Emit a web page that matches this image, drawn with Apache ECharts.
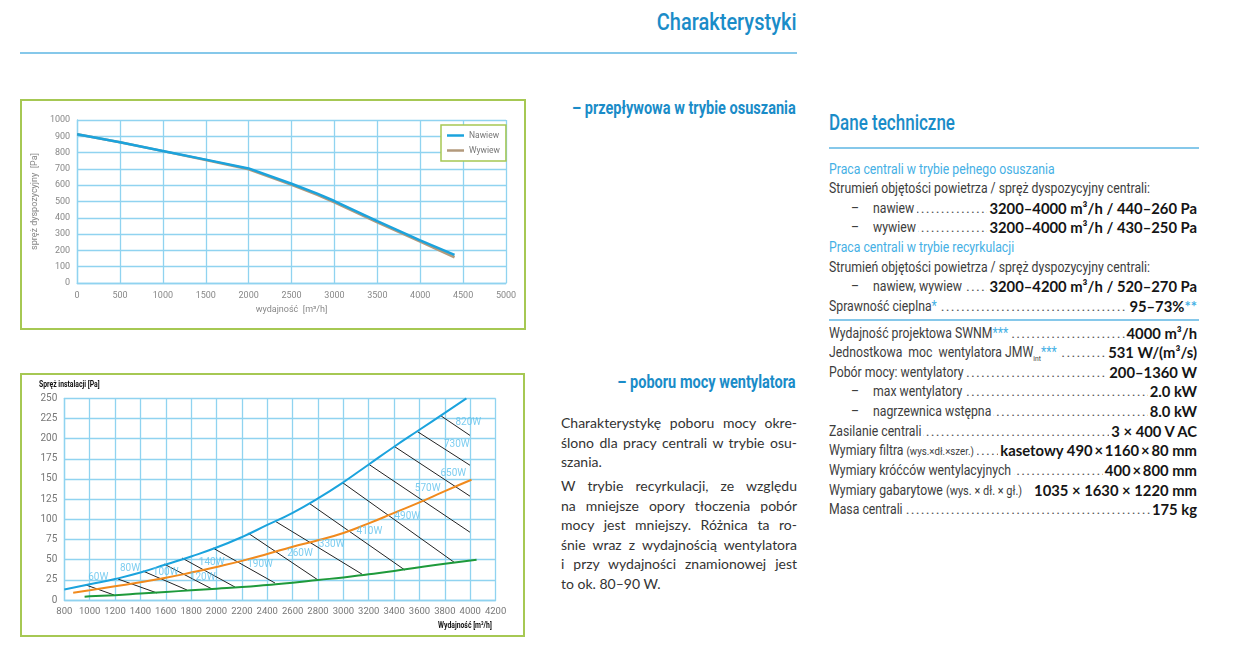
<!DOCTYPE html>
<html><head><meta charset="utf-8">
<script src="https://cdn.jsdelivr.net/npm/echarts@6/dist/echarts.min.js"></script>
<style>
html,body{margin:0;padding:0;background:#fff;width:1235px;height:660px;overflow:hidden;}
body{position:relative;font-family:Roboto,sans-serif;}
.abs{position:absolute;white-space:nowrap;}
.blue{color:#1a8cc8;}
.lb{color:#45b0e5;}
.box{position:absolute;border:2px solid #a6c853;box-sizing:border-box;}
.para{position:absolute;left:561px;width:236px;font-family:Lato,'Open Sans',sans-serif;font-size:14px;line-height:19.6px;color:#333;}
.para div{text-align:justify;text-align-last:justify;white-space:nowrap;}
.para div.last{text-align-last:left;}
.row{position:absolute;left:829px;width:368px;height:19.6px;font-size:14.5px;line-height:19.6px;color:#3d3d3d;white-space:nowrap;}
.lab{position:absolute;left:0;top:0;background:#fff;padding-right:3px;transform-origin:0 50%;font-family:Roboto,sans-serif;font-weight:400;}
.dots{position:absolute;left:0;right:0;top:0;overflow:hidden;direction:rtl;color:#555;letter-spacing:1.2px;font-family:Roboto,sans-serif;}
.val{position:absolute;right:0;top:0;background:#fff;padding-left:2px;font-family:Lato,'Open Sans',sans-serif;font-weight:bold;font-size:14.8px;color:#151515;}
.dash{display:inline-block;}
.sm{font-size:11.5px;}
.sm2{font-size:13px;}
.st{color:#45b0e5;}
</style>
</head><body>
<div class="abs blue fit" data-w="139.3" data-o="right" style="right:439px;top:7px;font-size:24px;line-height:30px;font-weight:500;">Charakterystyki</div>
<div class="abs" style="left:20px;top:52px;width:777px;height:2px;background:#86c8ea;"></div>
<div class="abs blue fit" data-w="224" data-o="right" style="right:439px;top:97px;font-size:17.5px;line-height:22px;font-weight:bold;">– przepływowa w trybie osuszania</div>
<div class="abs blue fit" data-w="178.7" data-o="right" style="right:439px;top:371px;font-size:17.5px;line-height:22px;font-weight:bold;">– poboru mocy wentylatora</div>

<div class="para" style="top:413px;">
<div>Charakterystykę poboru mocy okre-</div>
<div>ślono dla pracy centrali w trybie osu-</div>
<div class="last">szania.</div>
</div>
<div class="para" style="top:476px;">
<div>W trybie recyrkulacji, ze względu</div>
<div>na mniejsze opory tłoczenia pobór</div>
<div>mocy jest mniejszy. Różnica ta ro-</div>
<div>śnie wraz z wydajnością wentylatora</div>
<div>i przy wydajności znamionowej jest</div>
<div class="last">to ok. 80–90 W.</div>
</div>

<div class="abs blue fit" data-w="126" data-o="left" style="left:829px;top:109px;font-size:22px;line-height:28px;font-weight:500;">Dane techniczne</div>
<div class="abs" style="left:829px;top:147px;width:370px;height:2px;background:#86c8ea;"></div>
<div id="spec1"></div>
<div class="abs" style="left:829px;top:319px;width:370px;height:2px;background:#86c8ea;"></div>
<div id="spec2"></div>
<span id="meas" class="abs" style="visibility:hidden;left:0;top:0;font-family:Roboto,sans-serif;font-weight:400;font-size:14.5px;">Strumień objętości powietrza / spręż dyspozycyjny centrali:</span>

<div class="box" style="left:20px;top:99px;width:506px;height:231px;"><div id="c1" style="width:502px;height:227px;"></div></div>
<div class="box" style="left:20px;top:373px;width:505px;height:264px;"><div id="c2" style="width:501px;height:260px;"></div></div>

<script>
// ---------- data: flow characteristic (top chart) ----------
const flowX    = [0, 500, 1000, 1500, 2000, 2500, 2800, 3000, 3500, 4000, 4400];
const nawiewPa = [912, 863, 810, 757, 703, 609, 548, 503, 380, 262, 172];
const wywiewPa = [912, 863, 809, 755, 698, 602, 541, 495, 372, 254, 158];

// ---------- data: fan power (bottom chart) ----------
const blueX   = [800, 1000, 1200, 1400, 1600, 1800, 2000, 2200, 2400, 2600, 2800, 3000, 3200, 3400, 3600, 3800, 3970];
const blueY   = [13, 19.5, 26, 34, 44, 54, 65, 78, 93, 108, 126, 146, 168, 190, 211, 232, 250];
const orangeX = [870, 1000, 1200, 1400, 1600, 1800, 2000, 2200, 2400, 2600, 2800, 3000, 3200, 3400, 3600, 3800, 4010];
const orangeY = [9, 12, 17, 22, 27.5, 34, 41, 48.5, 57, 66, 74, 83, 95, 108, 121, 135, 149];
const greenX  = [960, 1000, 1200, 1400, 1600, 1800, 2000, 2200, 2400, 2600, 2800, 3000, 3200, 3400, 3600, 3800, 4050];
const greenY  = [4, 4.5, 6, 8, 10, 12, 14, 16, 18.6, 21.4, 24.8, 28, 32, 36, 40.5, 45, 50];
const hatchStartX = [971, 1223, 1420, 1586, 1728, 1972, 2248, 2461, 2729, 2989, 3202, 3399, 3581, 3762];
const hatchStartY = [18.6, 26, 35.9, 44.6, 52, 64.4, 83, 97.8, 120, 146, 168, 190.6, 209, 229];
const hatchEndX   = [1192, 1531, 1767, 1965, 2146, 2461, 2800, 3147, 3486, 3880, 3998, 3998, 3998, 3998];
const hatchEndY   = [6.2, 8.7, 12.4, 13.6, 16, 21, 24.8, 32, 37, 46, 84, 128.7, 167, 204];
const powerLabels = ['60W','80W','100W','120W','140W','190W','260W','330W','410W','490W','570W','650W','730W','820W'];
const powerLabelX = [1068, 1318, 1599, 1891, 1962, 2343, 2658, 2908, 3205, 3504, 3665, 3867, 3894, 3985];
const powerLabelY = [28, 39, 34, 28, 46, 44, 58, 69, 84.5, 104, 138, 157, 193, 220];

// ---------- spec text ----------
const TS = '\u2009';
const spec1 = [
  {t:'<span class="lb">Praca centrali w trybie pełnego osuszania</span>'},
  {t:'Strumień objętości powietrza / spręż dyspozycyjny centrali:'},
  {d:1, t:'nawiew', v:'3200–4000 m³/h / 440–260 Pa'},
  {d:1, t:'wywiew', v:'3200–4000 m³/h / 430–250 Pa'},
  {t:'<span class="lb">Praca centrali w trybie recyrkulacji</span>'},
  {t:'Strumień objętości powietrza / spręż dyspozycyjny centrali:'},
  {d:1, t:'nawiew, wywiew ', v:'3200–4200 m³/h / 520–270 Pa'},
  {t:'Sprawność cieplna<span class="st">*</span>', v:'95–73%<span class="st">**</span>'}
];
const spec2 = [
  {t:'Wydajność projektowa SWNM<span class="st">***</span> ', v:'4000 m³/h'},
  {t:'Jednostkowa&nbsp; moc&nbsp; wentylatora JMW<sub style="font-size:8px">int</sub><span class="st">***</span>', v:'531 W/(m³/s)'},
  {t:'Pobór mocy: wentylatory', v:'200–1360 W'},
  {d:1, t:'max wentylatory', v:'2.0 kW'},
  {d:1, t:'nagrzewnica wstępna ', v:'8.0 kW'},
  {t:'Zasilanie centrali ', v:'3 × 400 V AC'},
  {t:'Wymiary filtra <span class="sm">(wys.×dł.×szer.)</span> ', v:'kasetowy 490'+TS+'×'+TS+'1160'+TS+'×'+TS+'80 mm'},
  {t:'Wymiary króćców wentylacyjnych', v:'400'+TS+'×'+TS+'800 mm'},
  {t:'Wymiary gabarytowe <span class="sm2">(wys. × dł. × gł.)</span>', v:'1035 × 1630 × 1220 mm', nodots:1},
  {t:'Masa centrali ', v:'175 kg'}
];
const S = 321 / document.getElementById('meas').offsetWidth;
function renderSpec(id, rows, top, step){
  const dots = '.'.repeat(160);
  const dw = (22 / S).toFixed(2);
  let h = '';
  rows.forEach((r,i)=>{
    h += '<div class="row" style="top:'+(top+i*step).toFixed(1)+'px">';
    if (r.v && !r.nodots) h += '<span class="dots">'+dots+'</span>';
    h += '<span class="lab" style="transform:scaleX('+S.toFixed(4)+')">' +
         (r.d ? '<span class="dash" style="width:'+dw+'px;margin-left:'+dw+'px">–</span>' : '') + r.t + '</span>';
    if (r.v) h += '<span class="val">'+r.v+'</span>';
    h += '</div>';
  });
  document.getElementById(id).innerHTML = h;
}
renderSpec('spec1', spec1, 159.5, 19.6);
renderSpec('spec2', spec2, 323.5, 19.65);
document.querySelectorAll('.fit').forEach(el=>{
  const k = parseFloat(el.dataset.w) / el.offsetWidth;
  el.style.transformOrigin = (el.dataset.o === 'right' ? '100%' : '0') + ' 50%';
  el.style.transform = 'scaleX(' + k.toFixed(4) + ')';
});

// ---------- charts ----------
const F = "Roboto, sans-serif";
const GRID = '#90d3f0';
const plain = v => String(v);

const c1 = echarts.init(document.getElementById('c1'));
c1.setOption({
  animation:false,
  grid:{left:54, top:19, right:18, bottom:45},
  legend:{
    orient:'vertical', left:419, top:24, padding:[6,6,6,6], itemGap:6,
    borderColor:'#a6c853', borderWidth:1.5, backgroundColor:'#fff',
    icon:'rect', itemWidth:17, itemHeight:2.5,
    textStyle:{fontFamily:F, fontSize:8.5, color:'#777'},
    data:['Nawiew','Wywiew']
  },
  xAxis:{
    type:'value', min:0, max:5000, interval:500,
    axisLine:{lineStyle:{color:GRID, width:1.3}}, axisTick:{show:false},
    splitLine:{lineStyle:{color:GRID, width:1.3}},
    axisLabel:{color:'#888', fontSize:9, fontFamily:F, margin:8, formatter:plain},
    name:'wydajność  [m³/h]', nameLocation:'middle', nameGap:20,
    nameTextStyle:{color:'#888', fontSize:9, fontFamily:F}
  },
  yAxis:{
    type:'value', min:0, max:1000, interval:100,
    axisLine:{show:true, lineStyle:{color:GRID, width:1.3}}, axisTick:{show:false},
    splitLine:{lineStyle:{color:GRID, width:1.3}},
    axisLabel:{color:'#888', fontSize:9, fontFamily:F, margin:7, formatter:plain},
    name:'spręż dyspozycyjny  [Pa]', nameLocation:'middle', nameGap:34,
    nameTextStyle:{color:'#888', fontSize:9, fontFamily:F}
  },
  series:[
    {name:'Wywiew', type:'line', data:flowX.map((x,i)=>[x,wywiewPa[i]]), showSymbol:false,
     lineStyle:{color:'#b39a7c', width:2.5}, itemStyle:{color:'#b39a7c'}},
    {name:'Nawiew', type:'line', data:flowX.map((x,i)=>[x,nawiewPa[i]]), showSymbol:false,
     lineStyle:{color:'#1ba3dd', width:2.5}, itemStyle:{color:'#1ba3dd'}}
  ]
});

const c2 = echarts.init(document.getElementById('c2'));
c2.setOption({
  animation:false,
  grid:{left:42.3, top:23.3, right:27.4, bottom:35},
  xAxis:{
    type:'value', min:800, max:4200, interval:200,
    axisLine:{lineStyle:{color:GRID, width:1.3}}, axisTick:{show:false},
    splitLine:{lineStyle:{color:GRID, width:1.3}},
    axisLabel:{color:'#777', fontSize:9.5, fontFamily:F, margin:7, formatter:plain}
  },
  yAxis:{
    type:'value', min:0, max:250, interval:25,
    axisLine:{show:true, lineStyle:{color:GRID, width:1.3}}, axisTick:{show:false},
    splitLine:{lineStyle:{color:GRID, width:1.3}},
    axisLabel:{color:'#777', fontSize:10, fontFamily:F, margin:7, formatter:plain}
  },
  graphic:[
    {type:'text', left:17, top:5, scaleX:0.72, style:{text:'Spręż instalacji [Pa]', font:"bold 9.5px "+F, fill:'#111'}},
    {type:'text', left:416, top:246, scaleX:0.72, style:{text:'Wydajność [m³/h]', font:"bold 9.5px "+F, fill:'#111'}}
  ],
  series:[
    {type:'lines', coordinateSystem:'cartesian2d', silent:true, z:2,
     data:hatchStartX.map((x,i)=>({coords:[[x,hatchStartY[i]],[hatchEndX[i],hatchEndY[i]]]})),
     lineStyle:{color:'#222', width:1, opacity:1}},
    {type:'line', smooth:true, showSymbol:false, z:3, data:greenX.map((x,i)=>[x,greenY[i]]), lineStyle:{color:'#1e9a3b', width:2}},
    {type:'line', smooth:true, showSymbol:false, z:3, data:orangeX.map((x,i)=>[x,orangeY[i]]), lineStyle:{color:'#f18a1d', width:2}},
    {type:'line', smooth:true, showSymbol:false, z:3, data:blueX.map((x,i)=>[x,blueY[i]]), lineStyle:{color:'#1ba3dd', width:2}},
    {type:'scatter', symbolSize:0, z:4, silent:true,
     data:powerLabels.map((t,i)=>({name:t, value:[powerLabelX[i], powerLabelY[i]]})),
     label:{show:true, position:'inside', formatter:p=>p.name, color:'#5cc0ec', fontSize:10, fontFamily:F}}
  ]
});
</script>
</body></html>
